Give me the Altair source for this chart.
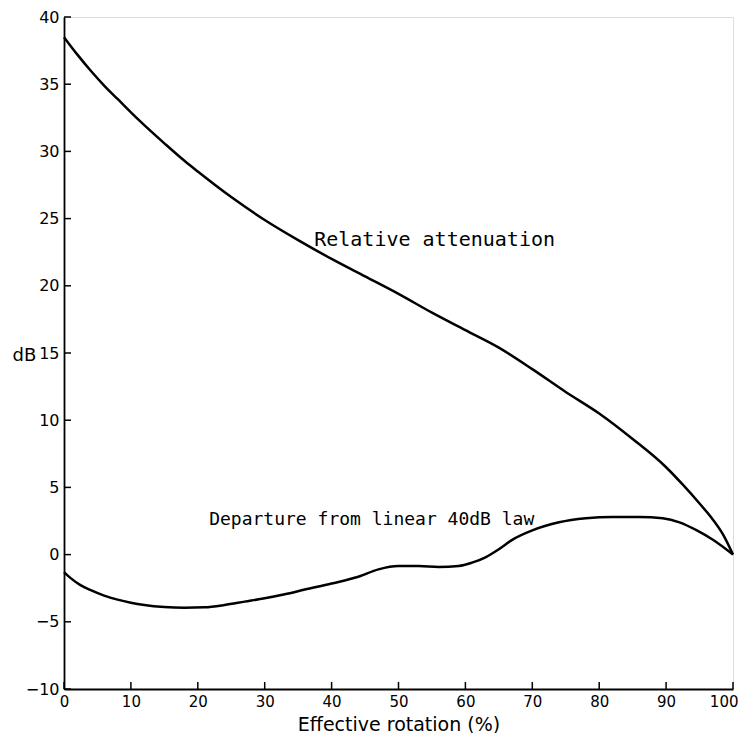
import altair as alt
import pandas as pd

# Relative attenuation curve (dB vs effective rotation %)
att_x = [0, 2, 4, 6, 8, 10, 12, 15, 18, 20, 25, 30, 35, 40, 45, 50, 55, 60, 65, 70, 75, 80, 85, 90, 92.5, 95, 97, 98.5, 100]
att_y = [38.5, 37.2, 36.0, 34.9, 33.9, 32.9, 31.95, 30.6, 29.3, 28.5, 26.6, 24.9, 23.4, 22.0, 20.7, 19.4, 18.0, 16.7, 15.4, 13.8, 12.1, 10.5, 8.6, 6.5, 5.2, 3.8, 2.6, 1.5, 0.0]

# Departure from linear 40 dB law
dep_x = [0, 1, 2.4, 4, 6, 8, 10, 12, 15, 18, 21, 24, 27, 30, 33, 36, 40, 44, 47, 50, 53, 56, 59, 61, 63, 65, 67, 70, 74, 78, 82, 86, 89.5, 92, 94.6, 97, 100]
dep_y = [-1.3, -1.75, -2.25, -2.65, -3.05, -3.35, -3.58, -3.75, -3.9, -3.95, -3.92, -3.75, -3.5, -3.25, -2.95, -2.6, -2.15, -1.65, -1.1, -0.85, -0.85, -0.92, -0.85, -0.6, -0.2, 0.4, 1.1, 1.8, 2.4, 2.7, 2.8, 2.8, 2.7, 2.4, 1.8, 1.1, 0.0]

x_ticks = [0, 10, 20, 30, 40, 50, 60, 70, 80, 90, 100]
y_ticks = [-10, -5, 0, 5, 10, 15, 20, 25, 30, 35, 40]

labels = ["Relative  attenuation", "Departure from linear 40dB law"]
label_x = [37.4, 21.7]
label_y = [23.4, 2.6]
label_size = [20, 18]

curves = pd.concat([
    pd.DataFrame({"x": att_x, "y": att_y, "series": "att"}),
    pd.DataFrame({"x": dep_x, "y": dep_y, "series": "dep"}),
])

xs = alt.Scale(domain=[0, 100], nice=False, zero=False)
ys = alt.Scale(domain=[-10, 40], nice=False, zero=False)

lines = alt.Chart(curves).mark_line(
    color="black", strokeWidth=2.5, interpolate="monotone"
).encode(
    x=alt.X("x:Q", scale=xs, axis=alt.Axis(
        values=x_ticks, ticks=False, grid=False, domainColor="black", domainWidth=1.8,
        labelFont="DejaVu Sans", labelFontSize=15, labelColor="black", labelPadding=5,
        labelAlign={"condition": {"test": "datum.value == 100", "value": "right"}, "value": "center"},
        labelOffset={"condition": {"test": "datum.value == 100", "value": 5}, "value": 0},
        title="Effective rotation (%)", titleFont="DejaVu Sans", titleFontSize=19,
        titleFontWeight="normal", titleColor="black", titleBaseline="alphabetic", titleY=41,
        labelFlush=False)),
    y=alt.Y("y:Q", scale=ys, axis=alt.Axis(
        values=y_ticks, ticks=False, grid=False, domainColor="black", domainWidth=1.8,
        labelFont="DejaVu Sans", labelFontSize=16, labelColor="black", labelPadding=5,
        title="dB", titleFont="DejaVu Sans", titleFontSize=18, titleFontWeight="normal",
        titleColor="black", titleAngle=0, titleAlign="center", titleBaseline="middle",
        titleX=-40, titleY=338, labelFlush=False)),
    detail="series:N",
)

ytick_df = pd.DataFrame({"v": y_ticks})
xtick_df = pd.DataFrame({"v": x_ticks})

yt = alt.Chart(ytick_df).mark_rule(color="black", strokeWidth=1.5).encode(
    y=alt.Y("v:Q", scale=ys), x=alt.value(0), x2=alt.value(7)
)
xt = alt.Chart(xtick_df).mark_rule(color="black", strokeWidth=1.5).encode(
    x=alt.X("v:Q", scale=xs), y=alt.value(672), y2=alt.value(665)
)

ann = pd.DataFrame({"t": labels, "x": label_x, "y": label_y, "s": label_size})
text = alt.Chart(ann).mark_text(
    align="left", baseline="middle", font="DejaVu Sans Mono", color="black"
).encode(
    x=alt.X("x:Q", scale=xs), y=alt.Y("y:Q", scale=ys), text="t:N",
    size=alt.Size("s:Q", scale=None, legend=None),
)

chart = alt.layer(lines, yt, xt, text).properties(
    width=669, height=672,
    autosize=alt.AutoSizeParams(type="none"),
    padding={"left": 56, "top": 9, "right": 5, "bottom": 44},
).configure_view(stroke=None).configure(background="white")

chart.save("out.html", embed_options={"renderer": "svg", "actions": False})
